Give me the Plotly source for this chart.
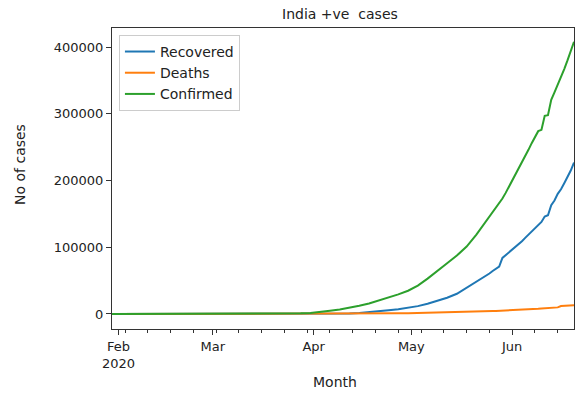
import plotly.graph_objects as go

dates = [
    "2020-01-30", "2020-02-15", "2020-03-01", "2020-03-10", "2020-03-15", "2020-03-20",
    "2020-03-25", "2020-03-28", "2020-03-31", "2020-04-03", "2020-04-06", "2020-04-09",
    "2020-04-12", "2020-04-15", "2020-04-18", "2020-04-21", "2020-04-24", "2020-04-27",
    "2020-04-30", "2020-05-03", "2020-05-06", "2020-05-09", "2020-05-12", "2020-05-15",
    "2020-05-18", "2020-05-21", "2020-05-24", "2020-05-25", "2020-05-26", "2020-05-27",
    "2020-05-28", "2020-05-29", "2020-05-30", "2020-05-31", "2020-06-01", "2020-06-02",
    "2020-06-03", "2020-06-04", "2020-06-05", "2020-06-06", "2020-06-07", "2020-06-08",
    "2020-06-09", "2020-06-10", "2020-06-11", "2020-06-12", "2020-06-13", "2020-06-14",
    "2020-06-15", "2020-06-16", "2020-06-17", "2020-06-18", "2020-06-19", "2020-06-20",
]

confirmed = [
    1, 3, 3, 56, 113, 244,
    657, 987, 1397, 2567, 4778, 6725,
    9152, 12370, 15722, 20080, 24530, 29451,
    34863, 42533, 52952, 64000, 76000, 87500,
    101000, 119000, 139000, 146000, 152000, 158500,
    165500, 173000, 181500, 190500, 201000, 208500,
    217000, 226000, 236000, 246000, 256000, 266000,
    274000, 276000, 297000, 298000, 321000, 332000,
    343000, 354000, 367000, 380000, 393000, 408000,
]

recovered = [
    0, 0, 3, 4, 13, 20,
    43, 84, 124, 192, 375, 620,
    856, 1489, 2463, 3975, 5498, 7137,
    9068, 11775, 15267, 19301, 24386, 30258,
    39174, 48534, 57692, 60700, 64500, 68000,
    71000, 84000, 88000, 92500, 96000, 100000,
    104000, 109000, 114000, 119000, 124000, 129000,
    134000, 138000, 146000, 148000, 163000, 170000,
    180000, 187000, 196000, 205000, 215000, 227000,
]

deaths = [
    0, 0, 0, 0, 2, 5,
    12, 24, 35, 72, 136, 226,
    308, 422, 521, 645, 780, 939,
    1154, 1391, 1783, 2101, 2415, 2752,
    3156, 3584, 4021, 4172, 4337, 4531,
    4706, 4971, 5164, 5394, 5598, 5815,
    6075, 6348, 6642, 6929, 7135, 7466,
    7745, 8102, 8498, 8884, 9195, 9520,
    9900, 11903, 12237, 12573, 12948, 13254,
]

series_names = ["Recovered", "Deaths", "Confirmed"]
series_colors = ["#1f77b4", "#ff7f0e", "#2ca02c"]
series_values = [recovered, deaths, confirmed]

tick_dates = ["2020-02-01", "2020-03-01", "2020-04-01", "2020-05-01", "2020-06-01"]
tick_labels = ["Feb<br>2020", "Mar", "Apr", "May", "Jun"]
y_ticks = [0, 100000, 200000, 300000, 400000]

FONT = "DejaVu Sans"

fig = go.Figure()
for name, color, vals in zip(series_names, series_colors, series_values):
    fig.add_trace(go.Scatter(x=dates, y=vals, mode="lines", name=name,
                             line=dict(color=color, width=2)))

fig.update_layout(
    width=576, height=396,
    margin=dict(l=112, r=2, t=28, b=67),
    paper_bgcolor="white", plot_bgcolor="white",
    font=dict(family=FONT, size=13, color="#222"),
    showlegend=True,
    legend=dict(x=0.015, y=0.977, xanchor="left", yanchor="top",
                bgcolor="rgba(255,255,255,0.9)", bordercolor="#cccccc", borderwidth=1,
                font=dict(family=FONT, size=14, color="#222"),
                itemwidth=30, tracegroupgap=0),
    annotations=[
        dict(text="India +ve\u00a0 cases", xref="paper", yref="paper",
             x=(340 - 112) / 462, y=1 + (28 - 14) / 301, xanchor="center", yanchor="middle",
             showarrow=False, font=dict(family=FONT, size=14, color="#222")),
        dict(text="Month", xref="paper", yref="paper",
             x=(335 - 112) / 462, y=-(382 - 329) / 301, xanchor="center", yanchor="middle",
             showarrow=False, font=dict(family=FONT, size=14, color="#222")),
        dict(text="No of cases", xref="paper", yref="paper", textangle=-90,
             x=(20 - 112) / 462, y=(329 - 165) / 301, xanchor="center", yanchor="middle",
             showarrow=False, font=dict(family=FONT, size=14, color="#222")),
    ],
)

fig.update_xaxes(
    type="date", range=["2020-01-30", "2020-06-20"],
    tickvals=tick_dates, ticktext=tick_labels,
    showline=True, mirror=True, linecolor="#333", linewidth=1,
    ticks="outside", ticklen=5, tickcolor="#333",
    showgrid=False, zeroline=False,
    minor=dict(ticks="outside", ticklen=3, tickcolor="#333",
               dtick=7 * 86400000, tick0="2020-02-03", showgrid=False),
    tickfont=dict(family=FONT, size=13, color="#222"),
)
fig.update_yaxes(
    range=[-22500, 428600],
    tickvals=y_ticks, tickformat="d",
    showline=True, mirror=True, linecolor="#333", linewidth=1,
    ticks="outside", ticklen=5, tickcolor="#333",
    showgrid=False, zeroline=False,
    tickfont=dict(family=FONT, size=13, color="#222"),
)

fig.write_html(
    "out.html",
    config={"displayModeBar": False},
    post_script="document.body.style.margin='0';document.body.style.overflow='hidden';",
)
